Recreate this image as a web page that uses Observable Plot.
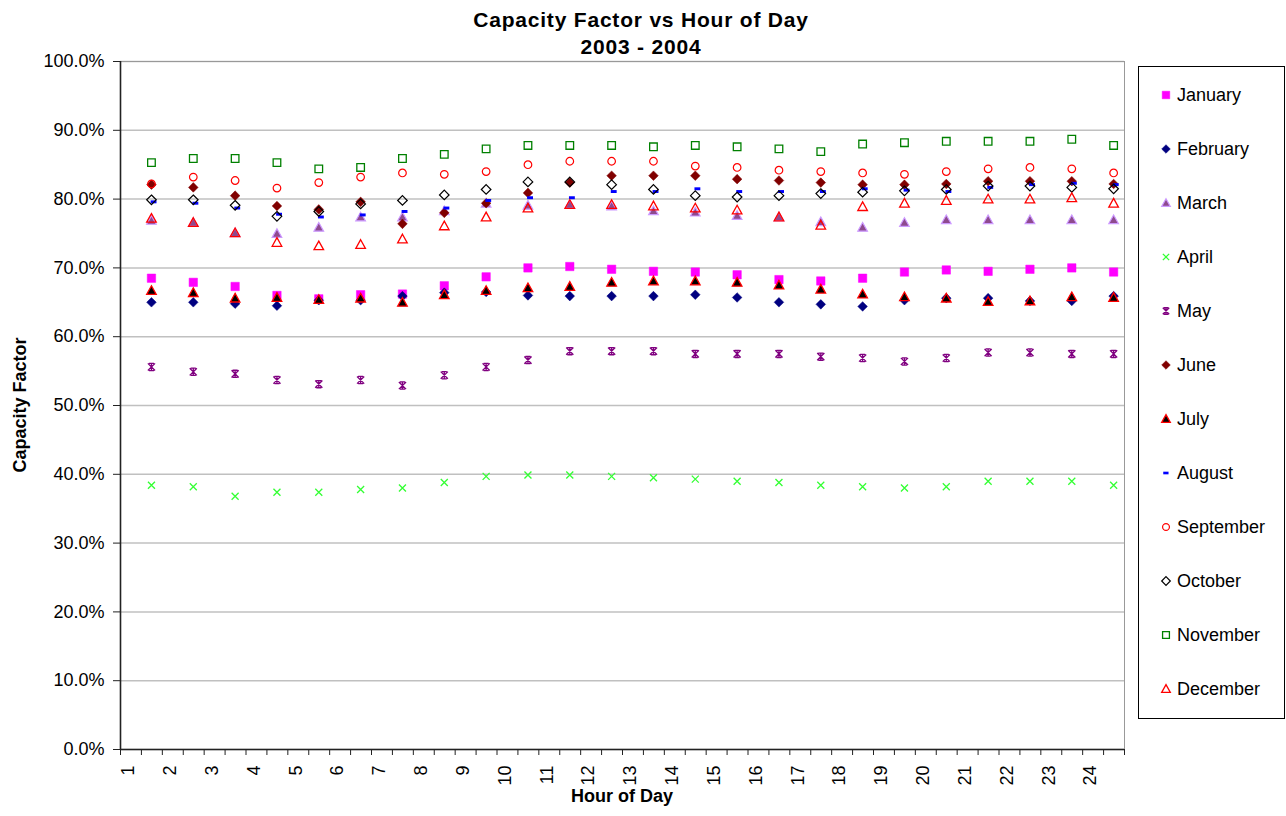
<!DOCTYPE html>
<html>
<head>
<meta charset="utf-8">
<script src="https://cdn.jsdelivr.net/npm/d3@7"></script>
<script src="https://cdn.jsdelivr.net/npm/@observablehq/plot@0.6"></script>
<style>
  html, body { margin: 0; padding: 0; background: #fff; }
  #wrap { position: relative; width: 1286px; height: 816px; font-family: "Liberation Sans", Arial, sans-serif; color: #000; overflow: hidden; }
  #title { position: absolute; left: 0; top: 6px; width: 1282px; text-align: center; font-weight: bold; font-size: 21px; letter-spacing: 0.8px; line-height: 27px; }
  #ytitle { position: absolute; left: 20px; top: 405px; transform: translate(-50%, -50%) rotate(-90deg); font-weight: bold; font-size: 18px; white-space: nowrap; }
  #xtitle { position: absolute; left: 622px; top: 786px; transform: translateX(-50%); font-weight: bold; font-size: 18px; white-space: nowrap; }
  #legend { position: absolute; left: 1138px; top: 66px; }
  #chart { position: absolute; left: 0; top: 0; }
</style>
</head>
<body>
<div id="wrap">
  <div id="chart"></div>
  <div id="title">Capacity Factor vs Hour of Day<br>2003 - 2004</div>
  <div id="ytitle">Capacity Factor</div>
  <div id="xtitle">Hour of Day</div>
  <div id="legend"></div>
</div>
<script>
// ---- data (capacity factor, percent) ----
const hours = [1,2,3,4,5,6,7,8,9,10,11,12,13,14,15,16,17,18,19,20,21,22,23,24];
const yTickValues = [0, 0.1, 0.2, 0.3, 0.4, 0.5, 0.6, 0.7, 0.8, 0.9, 1.0];
const months = ["January","February","March","April","May","June","July","August","September","October","November","December"];

const january   = [68.5, 67.9, 67.3, 66.0, 65.5, 66.1, 66.2, 67.4, 68.7, 70.0, 70.2, 69.8, 69.5, 69.4, 69.0, 68.3, 68.1, 68.5, 69.4, 69.7, 69.5, 69.8, 70.0, 69.4];
const february  = [65.0, 65.0, 64.8, 64.5, 65.3, 65.3, 65.9, 66.4, 66.5, 66.0, 65.9, 65.9, 65.9, 66.1, 65.7, 65.0, 64.7, 64.4, 65.3, 65.6, 65.6, 65.2, 65.2, 65.9];
const march     = [76.9, 76.6, 75.1, 75.0, 75.9, 77.4, 77.4, 78.3, 79.4, 79.1, 79.2, 79.0, 78.3, 78.1, 77.6, 77.4, 76.7, 75.9, 76.6, 77.0, 77.0, 77.0, 77.0, 77.0];
const april     = [38.4, 38.2, 36.8, 37.4, 37.4, 37.8, 38.0, 38.8, 39.7, 39.9, 39.9, 39.7, 39.5, 39.3, 39.0, 38.8, 38.4, 38.2, 38.0, 38.2, 39.0, 39.0, 39.0, 38.4];
const may       = [55.6, 54.9, 54.6, 53.7, 53.1, 53.7, 52.9, 54.4, 55.6, 56.6, 57.9, 57.9, 57.9, 57.5, 57.5, 57.5, 57.1, 56.9, 56.4, 56.9, 57.7, 57.7, 57.5, 57.5];
const june      = [82.1, 81.7, 80.5, 79.0, 78.5, 79.6, 76.4, 78.0, 79.4, 80.9, 82.4, 83.4, 83.4, 83.4, 82.9, 82.7, 82.4, 82.1, 82.1, 82.2, 82.6, 82.6, 82.6, 82.2];
const july      = [66.7, 66.4, 65.6, 65.7, 65.4, 65.6, 65.0, 66.1, 66.7, 67.1, 67.3, 67.9, 68.1, 68.1, 67.9, 67.5, 66.9, 66.2, 65.8, 65.6, 65.1, 65.2, 65.8, 65.7];
const august    = [79.6, 79.4, 78.7, 77.8, 77.4, 77.7, 78.2, 78.7, 79.8, 80.2, 80.2, 81.1, 81.1, 81.5, 81.1, 81.1, 81.1, 81.5, 81.3, 81.1, 81.7, 82.1, 82.3, 82.1];
const september = [82.2, 83.2, 82.7, 81.6, 82.4, 83.2, 83.8, 83.6, 84.0, 85.0, 85.5, 85.5, 85.5, 84.8, 84.6, 84.2, 84.0, 83.8, 83.6, 84.0, 84.4, 84.6, 84.4, 83.8];
const october   = [79.9, 79.9, 79.1, 77.5, 78.2, 79.3, 79.8, 80.6, 81.4, 82.5, 82.5, 82.1, 81.4, 80.5, 80.3, 80.5, 80.8, 81.0, 81.2, 81.4, 81.9, 81.9, 81.7, 81.5];
const november  = [85.3, 85.9, 85.9, 85.3, 84.4, 84.6, 85.9, 86.5, 87.3, 87.8, 87.8, 87.8, 87.6, 87.8, 87.6, 87.3, 86.9, 88.0, 88.2, 88.4, 88.4, 88.4, 88.7, 87.8];
const december  = [77.2, 76.6, 75.1, 73.7, 73.2, 73.4, 74.2, 76.1, 77.4, 78.7, 79.2, 79.2, 79.0, 78.7, 78.4, 77.4, 76.2, 78.9, 79.4, 79.8, 80.0, 80.0, 80.2, 79.4];

const seriesValues = [january, february, march, april, may, june, july, august, september, october, november, december];

// ---- marker shapes ----
function sym(fn) { return { draw(ctx, size) { fn(ctx, Math.sqrt(size / Math.PI)); } }; }
const shapes = {
  square: sym((c, r) => { c.moveTo(-r, -r); c.lineTo(r, -r); c.lineTo(r, r); c.lineTo(-r, r); c.closePath(); }),
  diamond: sym((c, r) => { c.moveTo(0, -r); c.lineTo(r, 0); c.lineTo(0, r); c.lineTo(-r, 0); c.closePath(); }),
  triangle: sym((c, r) => { c.moveTo(0, -r); c.lineTo(r, r * 0.8); c.lineTo(-r, r * 0.8); c.closePath(); }),
  circle: sym((c, r) => { c.moveTo(r, 0); c.arc(0, 0, r, 0, 2 * Math.PI); c.closePath(); }),
  cross: sym((c, r) => { c.moveTo(-r, -r); c.lineTo(r, r); c.moveTo(-r, r); c.lineTo(r, -r); }),
  star: sym((c, r) => { c.moveTo(-r, -r); c.lineTo(r, r); c.moveTo(-r, r); c.lineTo(r, -r); c.moveTo(0, -r); c.lineTo(0, r); c.moveTo(-r*0.7, -r); c.lineTo(r*0.7, -r); c.moveTo(-r*0.7, r); c.lineTo(r*0.7, r); }),
  dash: sym((c, r) => { c.moveTo(-r * 0.2, -r * 0.35); c.lineTo(r * 1.2, -r * 0.35); c.lineTo(r * 1.2, r * 0.35); c.lineTo(-r * 0.2, r * 0.35); c.closePath(); })
};

const styles = [
  {shape: "square",   r: 4.2, fill: "#FF00FF", stroke: "#FF00FF", sw: 0.5},
  {shape: "diamond",  r: 4.8, fill: "#000080", stroke: "#000080", sw: 0.5},
  {shape: "triangle", r: 4.8, fill: "#8E4A8E", stroke: "#CC99FF", sw: 1.2},
  {shape: "cross",    r: 3.5, fill: "none",    stroke: "#33FF33", sw: 1.3},
  {shape: "star",     r: 3.6, fill: "none",    stroke: "#800080", sw: 1.3},
  {shape: "diamond",  r: 4.8, fill: "#800000", stroke: "#800000", sw: 0.5},
  {shape: "triangle", r: 4.8, fill: "#000000", stroke: "#FF0000", sw: 1.3},
  {shape: "dash",     r: 4.2, fill: "#0000FF", stroke: "none",    sw: 0},
  {shape: "circle",   r: 3.8, fill: "none",    stroke: "#FF0000", sw: 1.2},
  {shape: "diamond",  r: 4.8, fill: "none",    stroke: "#000000", sw: 1.2},
  {shape: "square",   r: 3.8, fill: "none",    stroke: "#008000", sw: 1.3},
  {shape: "triangle", r: 4.8, fill: "none",    stroke: "#FF0000", sw: 1.3}
];

const xOffset = 0.74; // points sit between hour labels
const table = months.flatMap((m, i) => seriesValues[i].map((v, j) => ({month: m, hour: hours[j], value: v / 100})));
const halfTicks = d3.range(hours[0], hours[hours.length - 1] + 1.01, 0.5);

const chart = Plot.plot({
  width: 1286,
  height: 816,
  marginLeft: 120,
  marginRight: 162,
  marginTop: 61,
  marginBottom: 67,
  style: {fontFamily: "'Liberation Sans', Arial, sans-serif", fontSize: "18px", color: "#000", background: "transparent", overflow: "visible"},
  x: {domain: [hours[0], hours[hours.length - 1] + 1]},
  y: {domain: [0, 1]},
  marks: [
    Plot.gridY(yTickValues, {stroke: "#c0c0c0", strokeOpacity: 1, strokeWidth: 1.5}),
    Plot.frame({stroke: "#999999"}),
    Plot.axisY(yTickValues, {tickFormat: d3.format(".1%"), tickSize: 7, tickPadding: 9, label: null, stroke: "#222"}),
    Plot.axisX(halfTicks, {tickFormat: () => "", tickSize: 6, label: null, stroke: "#222"}),
    Plot.axisX(hours, {tickSize: 0, tickPadding: 16, tickRotate: -90, label: null, dx: 8}),
    Plot.ruleX([hours[0]], {stroke: "#222", strokeWidth: 1.6}),
    Plot.ruleY([0], {stroke: "#222", strokeWidth: 1.6}),
    ...months.map((m, i) => Plot.dot(table.filter(d => d.month === m), {
      x: d => d.hour + xOffset,
      y: "value",
      symbol: shapes[styles[i].shape],
      r: styles[i].r,
      fill: styles[i].fill,
      stroke: styles[i].stroke,
      strokeWidth: styles[i].sw
    }))
  ]
});
document.getElementById("chart").appendChild(chart);

// ---- legend ----
const lw = 147, lh = 653, rowStart = 29, rowStep = 54;
const lsvg = d3.select("#legend").append("svg").attr("width", lw).attr("height", lh)
  .style("font-family", "'Liberation Sans', Arial, sans-serif").style("font-size", "18px");
lsvg.append("rect").attr("x", 0.5).attr("y", 0.5).attr("width", lw - 1).attr("height", lh - 1)
  .attr("fill", "#fff").attr("stroke", "#000").attr("stroke-width", 1);
months.forEach((m, i) => {
  const s = styles[i];
  const cy = rowStart + i * rowStep;
  const lr = s.r * 0.9;
  const p = d3.symbol(shapes[s.shape], lr * lr * Math.PI)();
  lsvg.append("path").attr("d", p)
    .attr("transform", `translate(${s.shape === "dash" ? 26 : 28},${cy})`)
    .attr("fill", s.fill).attr("stroke", s.stroke).attr("stroke-width", s.sw);
  lsvg.append("text").attr("x", 39).attr("y", cy).attr("dy", "0.36em").attr("fill", "#000").text(m);
});
</script>
</body>
</html>
